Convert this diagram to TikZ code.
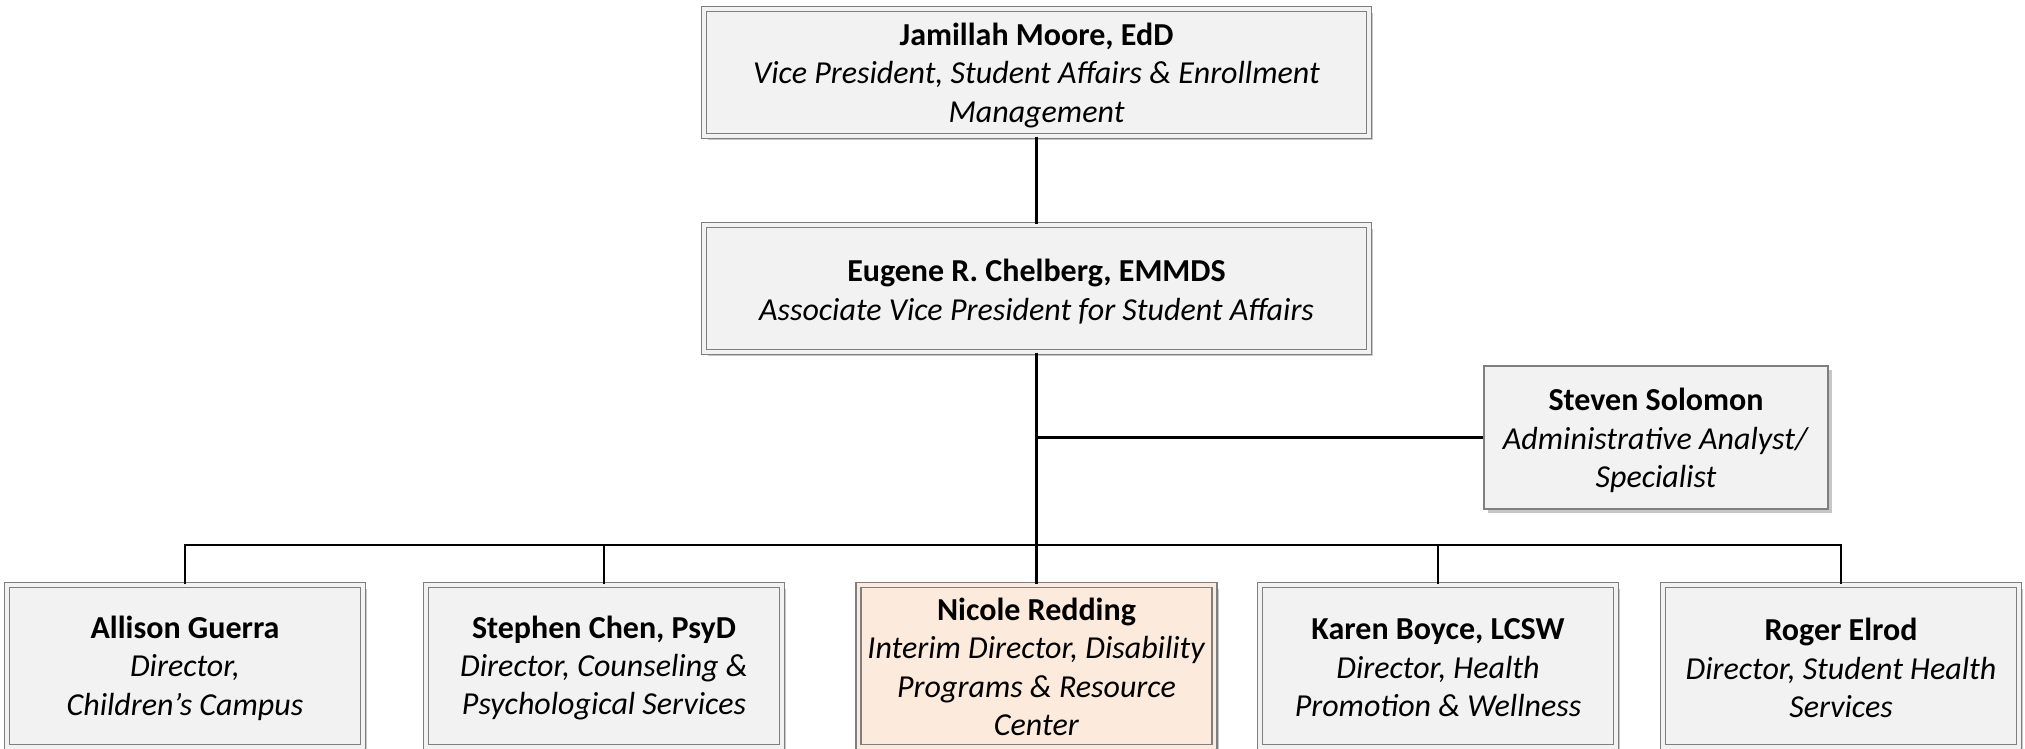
\documentclass[tikz,border=0pt]{standalone}
\usepackage{fontspec}
\setmainfont{Carlito}
\usetikzlibrary{shadows}
\definecolor{boxfill}{HTML}{F2F2F2}
\definecolor{peach}{HTML}{FCEADC}
\definecolor{edge}{HTML}{7F7F7F}
\tikzset{
  base/.style={inner sep=0pt,
    drop shadow={shadow xshift=4pt, shadow yshift=-4pt, fill=black!22, opacity=1}},
  dbox/.style={base, draw=edge, line width=1.3pt, double=#1, double distance=3.6pt, fill=#1},
  dbox/.default=boxfill,
  sbox/.style={base, draw=edge, line width=1.6pt, fill=boxfill},
  label text/.style={align=center, inner sep=0pt, font=\fontsize{32}{38.5}\selectfont},
  link/.style={draw=black, line width=2.2pt},
}
\begin{document}
\begin{tikzpicture}[x=1pt, y=-1pt]
\useasboundingbox (0,0) rectangle (2025,748);
\node[dbox, minimum width=665pt, minimum height=127pt] (vp) at (1036.5,72.5) {};
\node[dbox, minimum width=665pt, minimum height=127pt] (avp) at (1036.5,288.5) {};
\node[sbox, minimum width=344pt, minimum height=143pt] (ss) at (1656,437.5) {};
\node[dbox, minimum width=356pt, minimum height=162pt] (c1) at (185,666) {};
\node[dbox, minimum width=356pt, minimum height=162pt] (c2) at (604,666) {};
\node[dbox=peach, minimum width=356pt, minimum height=162pt] (c3) at (1036.5,666) {};
\node[dbox, minimum width=356pt, minimum height=162pt] (c4) at (1438,666) {};
\node[dbox, minimum width=356pt, minimum height=162pt] (c5) at (1841,666) {};

\node[label text] (vpt) at ([yshift=-3pt]vp.center)
  {\textbf{Jamillah Moore, EdD}\\\textit{Vice President, Student Affairs \& Enrollment}\\\textit{Management}};
\node[label text] (avpt) at ([yshift=-3pt]avp.center)
  {\textbf{Eugene R. Chelberg, EMMDS}\\\textit{Associate Vice President for Student Affairs}};
\node[label text] (sst) at ([yshift=-3pt]ss.center)
  {\textbf{Steven Solomon}\\\textit{Administrative Analyst/}\\\textit{Specialist}};
\node[label text] (c1t) at ([yshift=-2pt]c1.center)
  {\textbf{Allison Guerra}\\\textit{Director,}\\\textit{Children’s Campus}};
\node[label text] (c2t) at ([yshift=-2pt]c2.center)
  {\textbf{Stephen Chen, PsyD}\\\textit{Director, Counseling \&}\\\textit{Psychological Services}};
\node[label text] (c3t) at ([yshift=-1pt]c3.center)
  {\textbf{Nicole Redding}\\\textit{Interim Director, Disability}\\\textit{Programs \& Resource}\\\textit{Center}};
\node[label text] (c4t) at ([yshift=-2pt]c4.center)
  {\textbf{Karen Boyce, LCSW}\\\textit{Director, Health}\\\textit{Promotion \& Wellness}};
\node[label text] (c5t) at ([yshift=-2pt]c5.center)
  {\textbf{Roger Elrod}\\\textit{Director, Student Health}\\\textit{Services}};

\coordinate (bus) at (1036.5,545);
\draw[link] (vp.south) -- (avp.north);
\draw[link] (avp.south) -- (c3.north);
\draw[link] (ss.west) -- (ss.west -| avp.south);
\draw[link] (c1.north) |- (bus) -| (c5.north);
\draw[link] (c2.north) -- (c2.north |- bus);
\draw[link] (c4.north) -- (c4.north |- bus);
\end{tikzpicture}
\end{document}
